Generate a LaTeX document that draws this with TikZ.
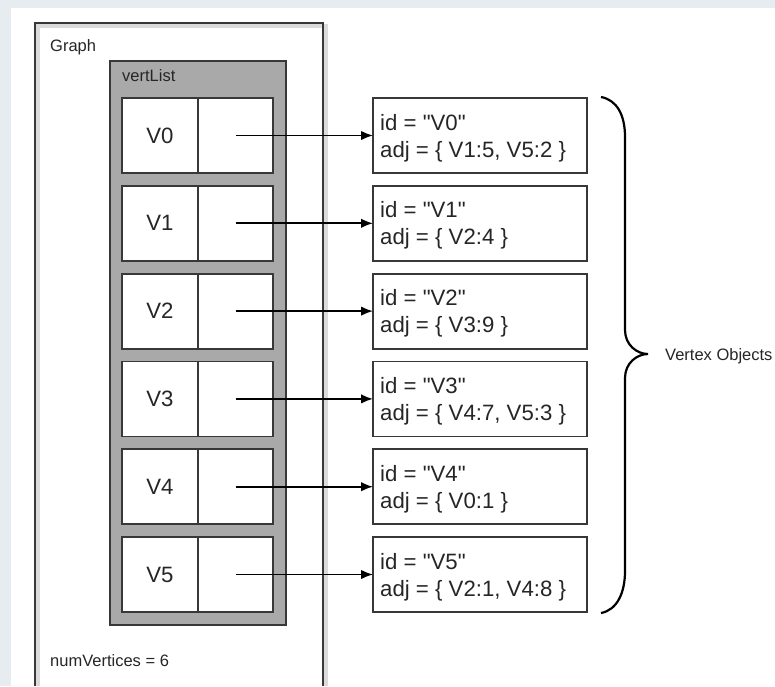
\documentclass[tikz,border=0pt]{standalone}
\usepackage{fontspec}
\setmainfont{Liberation Sans}
\usetikzlibrary{arrows.meta}
\definecolor{edge}{HTML}{383838}
\definecolor{ink}{HTML}{262626}
\definecolor{listfill}{HTML}{A9A9A9}
\definecolor{margin}{HTML}{E6ECEF}
\tikzset{
  cellbox/.style={draw=edge, fill=white, line width=1.8pt, rectangle,
    inner sep=0pt, outer sep=0pt, anchor=north west},
  bigtext/.style={font=\fontsize{22.2pt}{27pt}\selectfont, text=ink, inner sep=0pt},
  smalltext/.style={font=\fontsize{16.5pt}{20pt}\selectfont, text=ink, inner sep=0pt},
  pointer/.style={line width=1.7pt, -{Latex[length=12pt,width=9.5pt]}},
}
\begin{document}
\begin{tikzpicture}[x=1pt,y=-1pt]
\useasboundingbox (0,0) rectangle (775,686);
\fill[margin] (0,0) rectangle (775,686);
\fill[white] (11,8) rectangle (775,686);

% Graph object (open at the bottom)
\draw[black!14, line width=4pt] (38,686) -- (38,26) -- (326,26) -- (326,686);
\draw[edge, line width=1.8pt] (35,686) -- (35,23) -- (323,23) -- (323,686);
\node[smalltext, anchor=base west] (graphlbl) at (50,51) {Graph};
\node[smalltext, anchor=base west] (numv) at (50,666) {numVertices = 6};

% vertList array
\node[cellbox, fill=listfill, minimum width=176pt, minimum height=564pt] (vlist) at (110,61) {};
\node[smalltext, anchor=base west] (vlistlbl) at (122,81) {vertList};

% Array cells, vertex objects and pointers
\foreach \i/\adj in {0/{V1:5, V5:2}, 1/{V2:4}, 2/{V3:9}, 3/{V4:7, V5:3}, 4/{V0:1}, 5/{V2:1, V4:8}} {
  \pgfmathsetmacro\rowtop{98+87.8*\i}
  \node[cellbox, minimum width=76pt, minimum height=75pt] (k\i) at (122,\rowtop) {};
  \node[cellbox, minimum width=75pt, minimum height=75pt] (p\i) at (198,\rowtop) {};
  \node[bigtext] (kl\i) at (k\i.center) {V\i};
  \node[cellbox, minimum width=214pt, minimum height=75pt] (o\i) at (373,\rowtop) {};
  \node[bigtext, anchor=base west] (id\i) at (380,\rowtop+32) {id = \textquotedbl V\i\textquotedbl};
  \node[bigtext, anchor=base west] (adj\i) at (380,\rowtop+59) {adj = \{ \adj\ \}};
  \draw[pointer] (p\i.center) -- (o\i.west);
}

% Brace grouping the vertex objects
\draw[black, line width=2.2pt]
  (601,97) .. controls (617,100) and (625,115) .. (625,137)
  -- (625,330) .. controls (625,345) and (637,354) .. (648,354)
  .. controls (637,354) and (625,363) .. (625,378)
  -- (625,571) .. controls (625,593) and (617,610) .. (601,613);
\node[smalltext, anchor=base west] (vobj) at (665,360) {Vertex Objects};
\end{tikzpicture}
\end{document}
